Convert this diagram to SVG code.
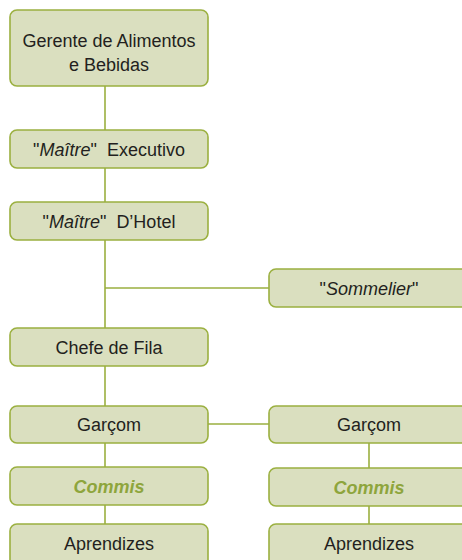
<svg xmlns="http://www.w3.org/2000/svg" width="462" height="560" viewBox="0 0 462 560">
<style>
.box{fill:#dadfbf;stroke:#9bb040;stroke-width:1.6}
.t{font-family:"Liberation Sans",Arial,sans-serif;font-size:18px;fill:#231f20;text-anchor:middle}
.i{font-style:italic}
.c{font-style:italic;font-weight:bold;fill:#8ea53c}
.ln{stroke:#9bb040;stroke-width:1.6;fill:none}
</style>
<rect width="462" height="560" fill="#fff"/>
<g id="connectors">
<path class="ln" d="M105 86V130M105 168V202M105 240V328M105 288H269M105 366V406M208 424H269M105 443V467M105 505V524M369 443V468M369 506V524"/>
</g>
<g id="n1"><rect class="box" x="10" y="10" width="198" height="76" rx="7"/><text class="t" x="109" y="47">Gerente de Alimentos</text><text class="t" x="109" y="71">e Bebidas</text></g>
<g id="n2"><rect class="box" x="10" y="130" width="198" height="38" rx="7"/><text class="t" x="109" y="156">"<tspan class="i">Maître</tspan>"<tspan dx="10">Executivo</tspan></text></g>
<g id="n3"><rect class="box" x="10" y="202" width="198" height="38" rx="7"/><text class="t" x="109" y="228">"<tspan class="i">Maître</tspan>"<tspan dx="10">D’Hotel</tspan></text></g>
<g id="n4"><rect class="box" x="269" y="269" width="200" height="38" rx="7"/><text class="t" x="369" y="295">"<tspan class="i">Sommelier</tspan>"</text></g>
<g id="n5"><rect class="box" x="10" y="328" width="198" height="38" rx="7"/><text class="t" x="109" y="354">Chefe de Fila</text></g>
<g id="n6"><rect class="box" x="10" y="406" width="198" height="37" rx="7"/><text class="t" x="109" y="431">Garçom</text></g>
<g id="n7"><rect class="box" x="269" y="406" width="200" height="37" rx="7"/><text class="t" x="369" y="431">Garçom</text></g>
<g id="n8"><rect class="box" x="10" y="467" width="198" height="38" rx="7"/><text class="t c" x="109" y="493">Commis</text></g>
<g id="n9"><rect class="box" x="269" y="468" width="200" height="38" rx="7"/><text class="t c" x="369" y="494">Commis</text></g>
<g id="n10"><rect class="box" x="10" y="524" width="198" height="50" rx="7"/><text class="t" x="109" y="550">Aprendizes</text></g>
<g id="n11"><rect class="box" x="269" y="524" width="200" height="50" rx="7"/><text class="t" x="369" y="550">Aprendizes</text></g>
</svg>
